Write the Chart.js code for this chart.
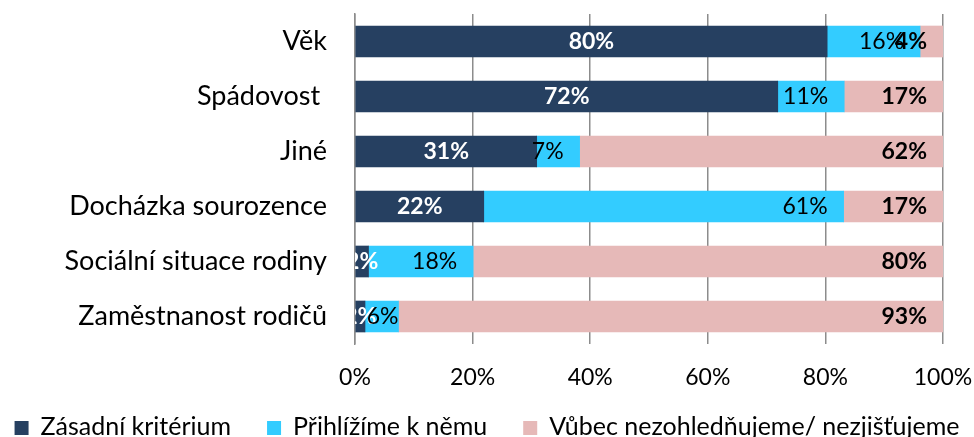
<!DOCTYPE html>
<html>
<head>
<meta charset="utf-8">
<script src="https://cdn.jsdelivr.net/npm/chart.js@4/dist/chart.umd.min.js"></script>
<style>
  html, body { margin: 0; padding: 0; background: #fff; overflow: hidden; }
  #wrap { width: 974px; height: 437px; }
</style>
</head>
<body>
<div id="wrap"><canvas id="chart" width="974" height="437"></canvas></div>
<script>
const categories = ['Věk', 'Spádovost ', 'Jiné', 'Docházka sourozence', 'Sociální situace rodiny', 'Zaměstnanost rodičů'];
const seriesNames = ['Zásadní kritérium', 'Přihlížíme k němu', 'Vůbec nezohledňujeme/ nezjišťujeme'];

// shares in %
const zasadni = [80.3, 71.9, 30.9, 21.9, 2.3, 1.7];
const prihlizime = [15.8, 11.3, 7.3, 61.2, 17.8, 5.7];
const vubec = [3.9, 16.8, 61.8, 16.9, 79.9, 92.6];

const xTickValues = [0, 20, 40, 60, 80, 100];

const colors = ['#264061', '#33CCFF', '#E6B9B8'];
const FONT = 'Lato, "Open Sans", sans-serif';
const GRID = '#8c8c8c';

// percentage labels on the bars
const barLabels = {
  id: 'barLabels',
  afterDatasetsDraw(chart) {
    const ctx = chart.ctx;
    const area = chart.chartArea;
    ctx.save();
    ctx.beginPath();
    ctx.rect(area.left, area.top, area.right - area.left, area.bottom - area.top);
    ctx.clip();
    ctx.textBaseline = 'middle';
    chart.data.datasets.forEach((ds, i) => {
      chart.getDatasetMeta(i).data.forEach((bar, j) => {
        const text = Math.round(ds.data[j]) + '%';
        if (i === 0) {
          ctx.font = 'bold 23px ' + FONT;
          ctx.fillStyle = '#fff';
          ctx.textAlign = 'center';
          ctx.fillText(text, (bar.base + bar.x) / 2, bar.y);
        } else {
          ctx.font = (i === 1 ? '' : 'bold ') + '23px ' + FONT;
          ctx.fillStyle = '#000';
          ctx.textAlign = 'right';
          let x = bar.x - 16;
          // too narrow for the inset: push it against the segment end
          if (i === 1 && ctx.measureText(text).width > bar.x - bar.base - 8) x = bar.x;
          ctx.fillText(text, x, bar.y);
        }
      });
    });
    ctx.restore();
  }
};

// legend row at the bottom, squares sit on the text baseline
const bottomLegend = {
  id: 'bottomLegend',
  afterDraw(chart) {
    const ctx = chart.ctx;
    const box = 14, gap = 12, spacing = 36, baseY = 435;
    ctx.save();
    ctx.font = '25px ' + FONT;
    ctx.textBaseline = 'alphabetic';
    ctx.textAlign = 'left';
    const names = chart.data.datasets.map(d => d.label);
    const widths = names.map(n => box + gap + ctx.measureText(n).width);
    const total = widths.reduce((a, b) => a + b, 0) + spacing * (names.length - 1);
    let x = (chart.width - total) / 2;
    names.forEach((n, i) => {
      ctx.fillStyle = chart.data.datasets[i].backgroundColor;
      ctx.fillRect(x, baseY - box, box, box);
      ctx.fillStyle = '#000';
      ctx.fillText(n, x + box + gap, baseY);
      x += widths[i] + spacing;
    });
    ctx.restore();
  }
};

new Chart(document.getElementById('chart'), {
  type: 'bar',
  data: {
    labels: categories,
    datasets: [
      { label: seriesNames[0], data: zasadni, backgroundColor: colors[0] },
      { label: seriesNames[1], data: prihlizime, backgroundColor: colors[1] },
      { label: seriesNames[2], data: vubec, backgroundColor: colors[2] }
    ]
  },
  options: {
    indexAxis: 'y',
    responsive: false,
    animation: false,
    devicePixelRatio: 1,
    font: { family: FONT },
    layout: { padding: { top: 14, right: 31, bottom: 0, left: 0 } },
    datasets: { bar: { barThickness: 31 } },
    plugins: {
      legend: { display: false },
      tooltip: { enabled: false }
    },
    scales: {
      x: {
        stacked: true,
        min: 0,
        max: 100,
        afterBuildTicks: s => { s.ticks = xTickValues.map(v => ({ value: v })); },
        ticks: {
          padding: 20,
          color: '#000',
          font: { family: FONT, size: 23 },
          callback: v => v + '%'
        },
        grid: { color: GRID, lineWidth: 1.5, drawTicks: false },
        border: { display: false },
        afterFit: s => {
          s.height = 93;
          s.paddingLeft = 0;
          s.paddingRight = 0;
        }
      },
      y: {
        stacked: true,
        ticks: {
          padding: 28,
          color: '#000',
          font: { family: FONT, size: 27 }
        },
        grid: { display: false, drawTicks: false },
        border: { color: GRID, width: 1.5 },
        afterFit: s => {
          s.width = 355;
          s.paddingTop = 0;
          s.paddingBottom = 0;
        }
      }
    }
  },
  plugins: [barLabels, bottomLegend]
});
</script>
</body>
</html>
